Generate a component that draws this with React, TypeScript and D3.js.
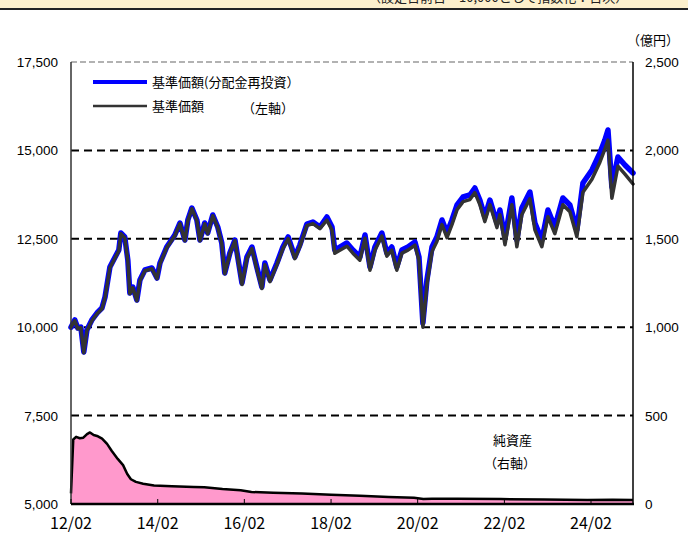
import * as d3 from 'd3'

const W = 688, H = 533
const M = { left: 71, right: 633, top: 62, bottom: 504 }

// 基準価額 series (sampled from chart)
const priceDates = [
  '2012-02-01', '2012-03-04', '2012-03-29', '2012-04-24', '2012-05-19', '2012-06-14', '2012-07-26', '2012-09-07', '2012-10-19', '2012-11-14',
  '2012-12-25', '2013-02-07', '2013-03-10', '2013-03-27', '2013-04-29', '2013-05-25', '2013-06-11', '2013-07-06', '2013-08-09', '2013-09-04',
  '2013-10-16', '2013-12-14', '2014-01-26', '2014-02-20', '2014-04-18', '2014-06-25', '2014-08-07', '2014-09-18', '2014-10-13', '2014-11-16',
  '2014-12-28', '2015-01-23', '2015-03-04', '2015-03-29', '2015-05-11', '2015-06-22', '2015-07-26', '2015-08-20', '2015-10-02', '2015-11-14',
  '2016-01-12', '2016-02-23', '2016-04-05', '2016-05-16', '2016-06-28', '2016-07-23', '2016-09-04', '2016-11-02', '2016-12-22', '2017-02-04',
  '2017-04-02', '2017-05-14', '2017-07-12', '2017-09-01', '2017-10-30', '2017-12-28', '2018-02-09', '2018-03-04', '2018-04-16', '2018-06-14',
  '2018-08-04', '2018-10-02', '2018-11-14', '2018-12-26', '2019-02-06', '2019-04-05', '2019-05-17', '2019-06-28', '2019-08-09', '2019-09-21',
  '2019-11-11', '2020-01-09', '2020-02-12', '2020-03-16', '2020-04-19', '2020-06-01', '2020-07-12', '2020-08-24', '2020-10-05', '2020-11-16',
  '2020-12-29', '2021-02-18', '2021-04-16', '2021-05-28', '2021-07-09', '2021-08-20', '2021-10-02', '2021-11-30', '2021-12-25', '2022-02-06',
  '2022-04-05', '2022-05-17', '2022-06-28', '2022-09-04', '2022-10-16', '2022-12-14', '2023-02-03', '2023-04-02', '2023-06-09', '2023-08-07',
  '2023-10-05', '2023-11-25', '2024-02-09', '2024-04-16', '2024-05-28', '2024-06-23', '2024-07-26', '2024-09-15', '2024-11-13', '2025-01-20',
]

const reinvested = [
  10000, 10204, 9977, 10006, 9299, 9921, 10204, 10401, 10543, 10854,
  11702, 11985, 12183, 12664, 12551, 11900, 10967, 11137, 10769, 11335,
  11618, 11674, 11391, 11815, 12268, 12607, 12947, 12466, 13032, 13371,
  13032, 12466, 12947, 12664, 13173, 12834, 12381, 11533, 12098, 12466,
  11250, 11985, 12268, 11702, 11137, 11815, 11335, 11815, 12268, 12551,
  11985, 12325, 12918, 12975, 12834, 13116, 12834, 12183, 12268, 12381,
  12183, 11985, 12607, 11702, 12268, 12664, 12098, 12268, 11702, 12183,
  12268, 12409, 11985, 10119, 11335, 12268, 12551, 13032, 12664, 13032,
  13456, 13682, 13739, 13936, 13597, 13116, 13597, 12947, 13314, 12522,
  13654, 12466, 13371, 13823, 12947, 12466, 13314, 12834, 13654, 13456,
  12749, 14078, 14446, 14926, 15294, 15577, 13965, 14813, 14587, 14361,
]

const basePrice = [
  10000, 10184, 9957, 9986, 9279, 9901, 10184, 10381, 10523, 10834,
  11682, 11965, 12163, 12644, 12531, 11880, 10947, 11117, 10749, 11315,
  11598, 11654, 11371, 11795, 12248, 12587, 12927, 12446, 13012, 13351,
  13012, 12446, 12927, 12644, 13153, 12814, 12361, 11513, 12078, 12446,
  11205, 11940, 12223, 11657, 11092, 11770, 11290, 11770, 12223, 12506,
  11940, 12280, 12873, 12930, 12789, 13026, 12744, 12093, 12178, 12291,
  12093, 11895, 12517, 11612, 12178, 12574, 12008, 12178, 11612, 12093,
  12178, 12319, 11895, 10000, 11205, 12138, 12421, 12902, 12534, 12902,
  13326, 13552, 13609, 13806, 13467, 12986, 13467, 12817, 13184, 12332,
  13464, 12276, 13181, 13633, 12757, 12276, 13124, 12644, 13464, 13266,
  12559, 13818, 14186, 14666, 15034, 15290, 13650, 14553, 14327, 14050,
]

// 純資産 (億円)
const assetDates = [
  '2012-02-01', '2012-02-20', '2012-03-15', '2012-04-15', '2012-05-15', '2012-06-15', '2012-07-10', '2012-08-10', '2012-09-15', '2012-10-20',
  '2012-12-01', '2013-01-10', '2013-03-01', '2013-04-15', '2013-05-20', '2013-06-20', '2013-08-01', '2013-10-01', '2014-01-01', '2014-06-01',
  '2014-12-01', '2015-03-01', '2015-08-01', '2016-01-01', '2016-04-01', '2016-10-01', '2017-06-01', '2018-02-01', '2018-10-01', '2019-06-01',
  '2020-01-01', '2020-03-20', '2020-06-01', '2021-01-01', '2022-01-01', '2023-01-01', '2024-01-01', '2024-08-01', '2025-01-20',
]
const netAssets = [
  60, 365, 380, 372, 375, 395, 405, 390, 383, 370,
  340, 300, 255, 220, 170, 140, 125, 115, 105, 100,
  96, 95, 85, 78, 68, 64, 59, 52, 46, 40,
  35, 28, 30, 30, 28, 25, 23, 24, 22,
]

const leftTicks = [5000, 7500, 10000, 12500, 15000, 17500]
const rightTicks = [0, 500, 1000, 1500, 2000, 2500]
const xTickDates = ['2012-02-01', '2014-02-01', '2016-02-01', '2018-02-01', '2020-02-01', '2022-02-01', '2024-02-01']

const parse = d3.utcParse('%Y-%m-%d')
const JP = '"Noto Sans CJK JP", "Noto Sans", sans-serif'
const NUM = '"Liberation Sans", Arial, sans-serif'

export default function App() {
  const x = d3.scaleUtc([parse('2012-02-01')!, parse('2025-01-20')!], [M.left, M.right])
  const yL = d3.scaleLinear([5000, 17500], [M.bottom, M.top])
  const yR = d3.scaleLinear([0, 2500], [M.bottom, M.top])

  const pd = priceDates.map((d) => parse(d)!)
  const ad = assetDates.map((d) => parse(d)!)

  const priceLine = d3.line<number>().x((_, i) => x(pd[i])).y((v) => yL(v))
  const assetArea = d3.area<number>().x((_, i) => x(ad[i])).y0(yR(0)).y1((v) => yR(v))
  const assetLine = d3.line<number>().x((_, i) => x(ad[i])).y((v) => yR(v))
  const fmt = d3.format(',')
  const xFmt = d3.utcFormat('%y/%m')

  return (
    <svg width={W} height={H} viewBox={`0 0 ${W} ${H}`}
      style={{ position: 'absolute', left: 0, top: 0, background: '#fff', display: 'block' }}>
      <defs>
        <clipPath id="strip"><rect x={0} y={0} width={W} height={8} /></clipPath>
      </defs>
      {/* top banner strip, its caption is mostly cut off */}
      <rect x={0} y={0} width={W} height={8} fill="#fdf0cc" />
      <text x={368} y={2} clipPath="url(#strip)" fontFamily={JP} fontSize={13} fill="#222">（設定日前日＝10,000として指数化：日次）</text>
      <line x1={0} x2={W} y1={9} y2={9} stroke="#222" strokeWidth={2} />

      {/* net assets */}
      <path d={assetArea(netAssets) ?? ''} fill="#ff99cc" />
      <path d={assetLine(netAssets) ?? ''} fill="none" stroke="#000" strokeWidth={2.5} strokeLinejoin="round" />

      {/* gridlines */}
      {leftTicks.slice(1, 5).map((t) => (
        <line key={t} x1={M.left} x2={M.right} y1={yL(t)} y2={yL(t)} stroke="#000" strokeWidth={2} strokeDasharray="8,5" />
      ))}
      <line x1={M.left} x2={M.right} y1={M.top} y2={M.top} stroke="#999" strokeWidth={1.5} strokeDasharray="6,3" />

      {/* price lines */}
      <path d={priceLine(reinvested) ?? ''} fill="none" stroke="#0000ff" strokeWidth={5.5} strokeLinejoin="round" strokeLinecap="round" />
      <path d={priceLine(basePrice) ?? ''} fill="none" stroke="#333" strokeWidth={3.5} strokeLinejoin="round" strokeLinecap="round" />

      {/* frame */}
      <line x1={M.left} x2={M.left} y1={M.top} y2={M.bottom} stroke="#333" strokeWidth={1.5} />
      <line x1={M.right} x2={M.right} y1={M.top} y2={M.bottom} stroke="#000" strokeWidth={1.5} />
      <line x1={M.left} x2={M.right + 1} y1={M.bottom} y2={M.bottom} stroke="#000" strokeWidth={2.5} />

      {/* x ticks */}
      {xTickDates.map((d) => {
        const px = x(parse(d)!)
        return (
          <g key={d}>
            <line x1={px} x2={px} y1={M.bottom} y2={M.bottom - 5} stroke="#000" strokeWidth={1} />
            <text x={px} y={529} textAnchor="middle" fontFamily={JP} fontSize={16} fill="#000">{xFmt(parse(d)!)}</text>
          </g>
        )
      })}

      {/* y labels */}
      {leftTicks.map((t) => (
        <text key={t} x={58} y={yL(t) + 5} textAnchor="end" fontFamily={NUM} fontSize={13.5} fill="#000">{fmt(t)}</text>
      ))}
      {rightTicks.map((t) => (
        <text key={t} x={645} y={yR(t) + 5} fontFamily={NUM} fontSize={13.5} fill="#000">{fmt(t)}</text>
      ))}
      <text x={627} y={45} fontFamily={JP} fontSize={13} fill="#000">（億円）</text>

      {/* legend */}
      <line x1={93} x2={147} y1={82} y2={82} stroke="#0000ff" strokeWidth={4} />
      <text x={152} y={87} fontFamily={JP} fontSize={13} fill="#000">基準価額(分配金再投資）</text>
      <line x1={93} x2={147} y1={106} y2={106} stroke="#333" strokeWidth={2.5} />
      <text x={152} y={111} fontFamily={JP} fontSize={13} fill="#000">基準価額</text>
      <text x={242} y={113} fontFamily={JP} fontSize={13} fill="#000">（左軸）</text>

      <text x={493} y={445} fontFamily={JP} fontSize={13} fill="#000">純資産</text>
      <text x={484} y={468} fontFamily={JP} fontSize={13} fill="#000">（右軸）</text>
    </svg>
  )
}
